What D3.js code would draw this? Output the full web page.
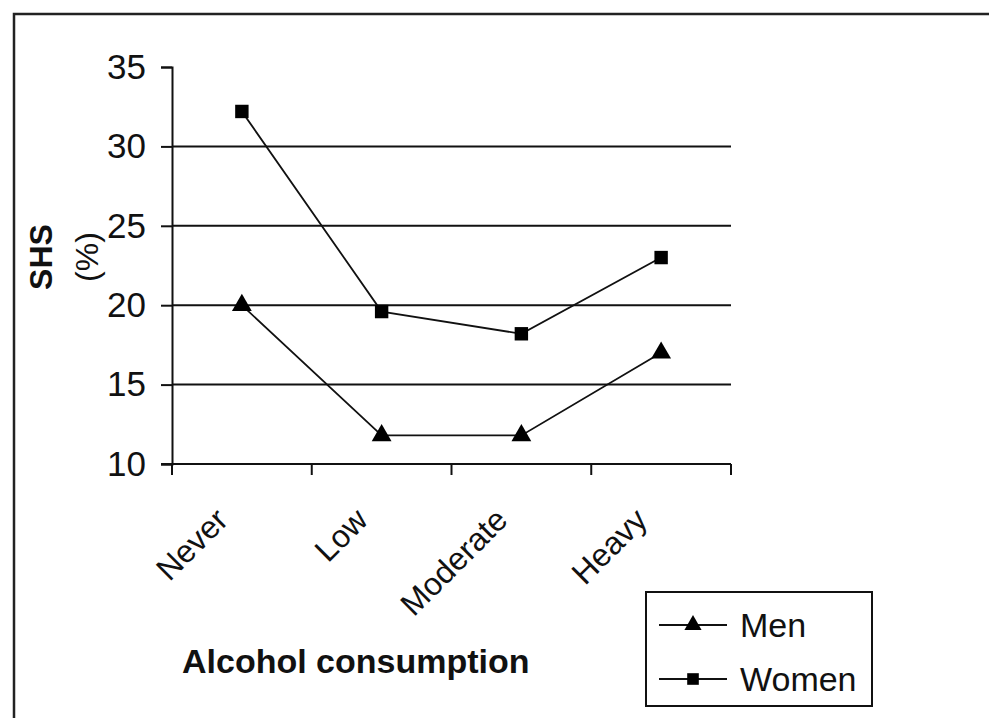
<!DOCTYPE html>
<html>
<head>
<meta charset="utf-8">
<script src="https://cdn.jsdelivr.net/npm/d3@7"></script>
<style>
  html, body { margin: 0; padding: 0; background: #fff; }
  svg { display: block; }
  text { font-family: "Liberation Sans", Arial, sans-serif; fill: #111; }
</style>
</head>
<body>
<script>
const categories = ["Never", "Low", "Moderate", "Heavy"];
const menValues = [20.0, 11.8, 11.8, 17.0];
const womenValues = [32.2, 19.6, 18.2, 23.0];
const yTicks = [10, 15, 20, 25, 30, 35];
const gridValues = [15, 20, 25, 30];
const seriesNames = ["Men", "Women"];
const xTitle = "Alcohol consumption";
const yTitleLines = ["SHS", "(%)"];

const W = 989, H = 718;
const svg = d3.select("body").append("svg").attr("width", W).attr("height", H);

// outer frame (right/bottom edges outside the picture)
svg.append("rect").attr("x", 14).attr("y", 14).attr("width", 1000).attr("height", 720)
  .attr("fill", "none").attr("stroke", "#222").attr("stroke-width", 2.5);

const plot = { left: 172, right: 731, top: 67, bottom: 464 };
const x = d3.scaleBand().domain(categories).range([plot.left, plot.right]);
const y = d3.scaleLinear().domain([10, 35]).range([plot.bottom, plot.top]);

// gridlines
svg.append("g").selectAll("line").data(gridValues).join("line")
  .attr("x1", plot.left).attr("x2", plot.right)
  .attr("y1", d => y(d)).attr("y2", d => y(d))
  .attr("stroke", "#111").attr("stroke-width", 2);

// y axis
const yAxis = svg.append("g").attr("transform", `translate(${plot.left},0)`)
  .call(d3.axisLeft(y).tickValues(yTicks).tickSize(11).tickPadding(15).tickFormat(d3.format("d")));
yAxis.select(".domain").attr("stroke", "#111").attr("stroke-width", 2);
yAxis.selectAll(".tick line").attr("stroke", "#111").attr("stroke-width", 2);
yAxis.selectAll(".tick text").attr("font-size", 35).attr("fill", "#111")
  .attr("font-family", "Liberation Sans, Arial, sans-serif");

// x axis
const xEdges = categories.map(c => x(c)).concat([plot.right]);
const xAxisG = svg.append("g");
xAxisG.append("line").attr("x1", plot.left - 11).attr("x2", plot.right)
  .attr("y1", plot.bottom).attr("y2", plot.bottom).attr("stroke", "#111").attr("stroke-width", 2);
xAxisG.selectAll("line.tk").data(xEdges).join("line").attr("class", "tk")
  .attr("x1", d => d).attr("x2", d => d)
  .attr("y1", plot.bottom).attr("y2", plot.bottom + 11)
  .attr("stroke", "#111").attr("stroke-width", 2);
xAxisG.selectAll("text").data(categories).join("text")
  .attr("transform", d => `translate(${x(d) + x.bandwidth() / 2 - 12},${plot.bottom + 58}) rotate(-45)`)
  .attr("text-anchor", "end")
  .attr("font-size", 32)
  .text(d => d);

// series
const cx = c => x(c) + x.bandwidth() / 2;
const line = d3.line().x((d, i) => cx(categories[i])).y(d => y(d));
const series = [
  { name: seriesNames[0], values: menValues, shape: d3.symbolTriangle, size: 170 },
  { name: seriesNames[1], values: womenValues, shape: d3.symbolSquare, size: 180 }
];
series.forEach(s => {
  svg.append("path").datum(s.values).attr("d", line)
    .attr("fill", "none").attr("stroke", "#111").attr("stroke-width", 1.8);
  svg.append("g").selectAll("path").data(s.values).join("path")
    .attr("d", d3.symbol().type(s.shape).size(s.size))
    .attr("transform", (d, i) => `translate(${cx(categories[i])},${y(d)})`)
    .attr("fill", "#000");
});

// axis titles
svg.append("text").attr("x", 182).attr("y", 673).attr("font-size", 34)
  .attr("font-weight", "bold").text(xTitle);
const yt = svg.append("text").attr("transform", "translate(0,257) rotate(-90)")
  .attr("text-anchor", "middle").attr("font-size", 32).attr("font-weight", "bold");
yt.append("tspan").attr("x", 0).attr("y", 52).text(yTitleLines[0]);
yt.append("tspan").attr("x", 0).attr("y", 98).attr("font-weight", "normal").text(yTitleLines[1]);

// legend
const lg = svg.append("g");
lg.append("rect").attr("x", 646).attr("y", 592).attr("width", 226).attr("height", 114)
  .attr("fill", "#fff").attr("stroke", "#111").attr("stroke-width", 2);
const legendRowsY = [625, 679];
series.forEach((s, i) => {
  const ly = legendRowsY[i];
  lg.append("line").attr("x1", 659).attr("x2", 727).attr("y1", ly).attr("y2", ly)
    .attr("stroke", "#111").attr("stroke-width", 2);
  lg.append("path").attr("d", d3.symbol().type(s.shape).size(s.size * 0.75))
    .attr("transform", `translate(693,${ly})`).attr("fill", "#000");
  lg.append("text").attr("x", 740).attr("y", ly + 12).attr("font-size", 34).text(s.name);
});
</script>
</body>
</html>
